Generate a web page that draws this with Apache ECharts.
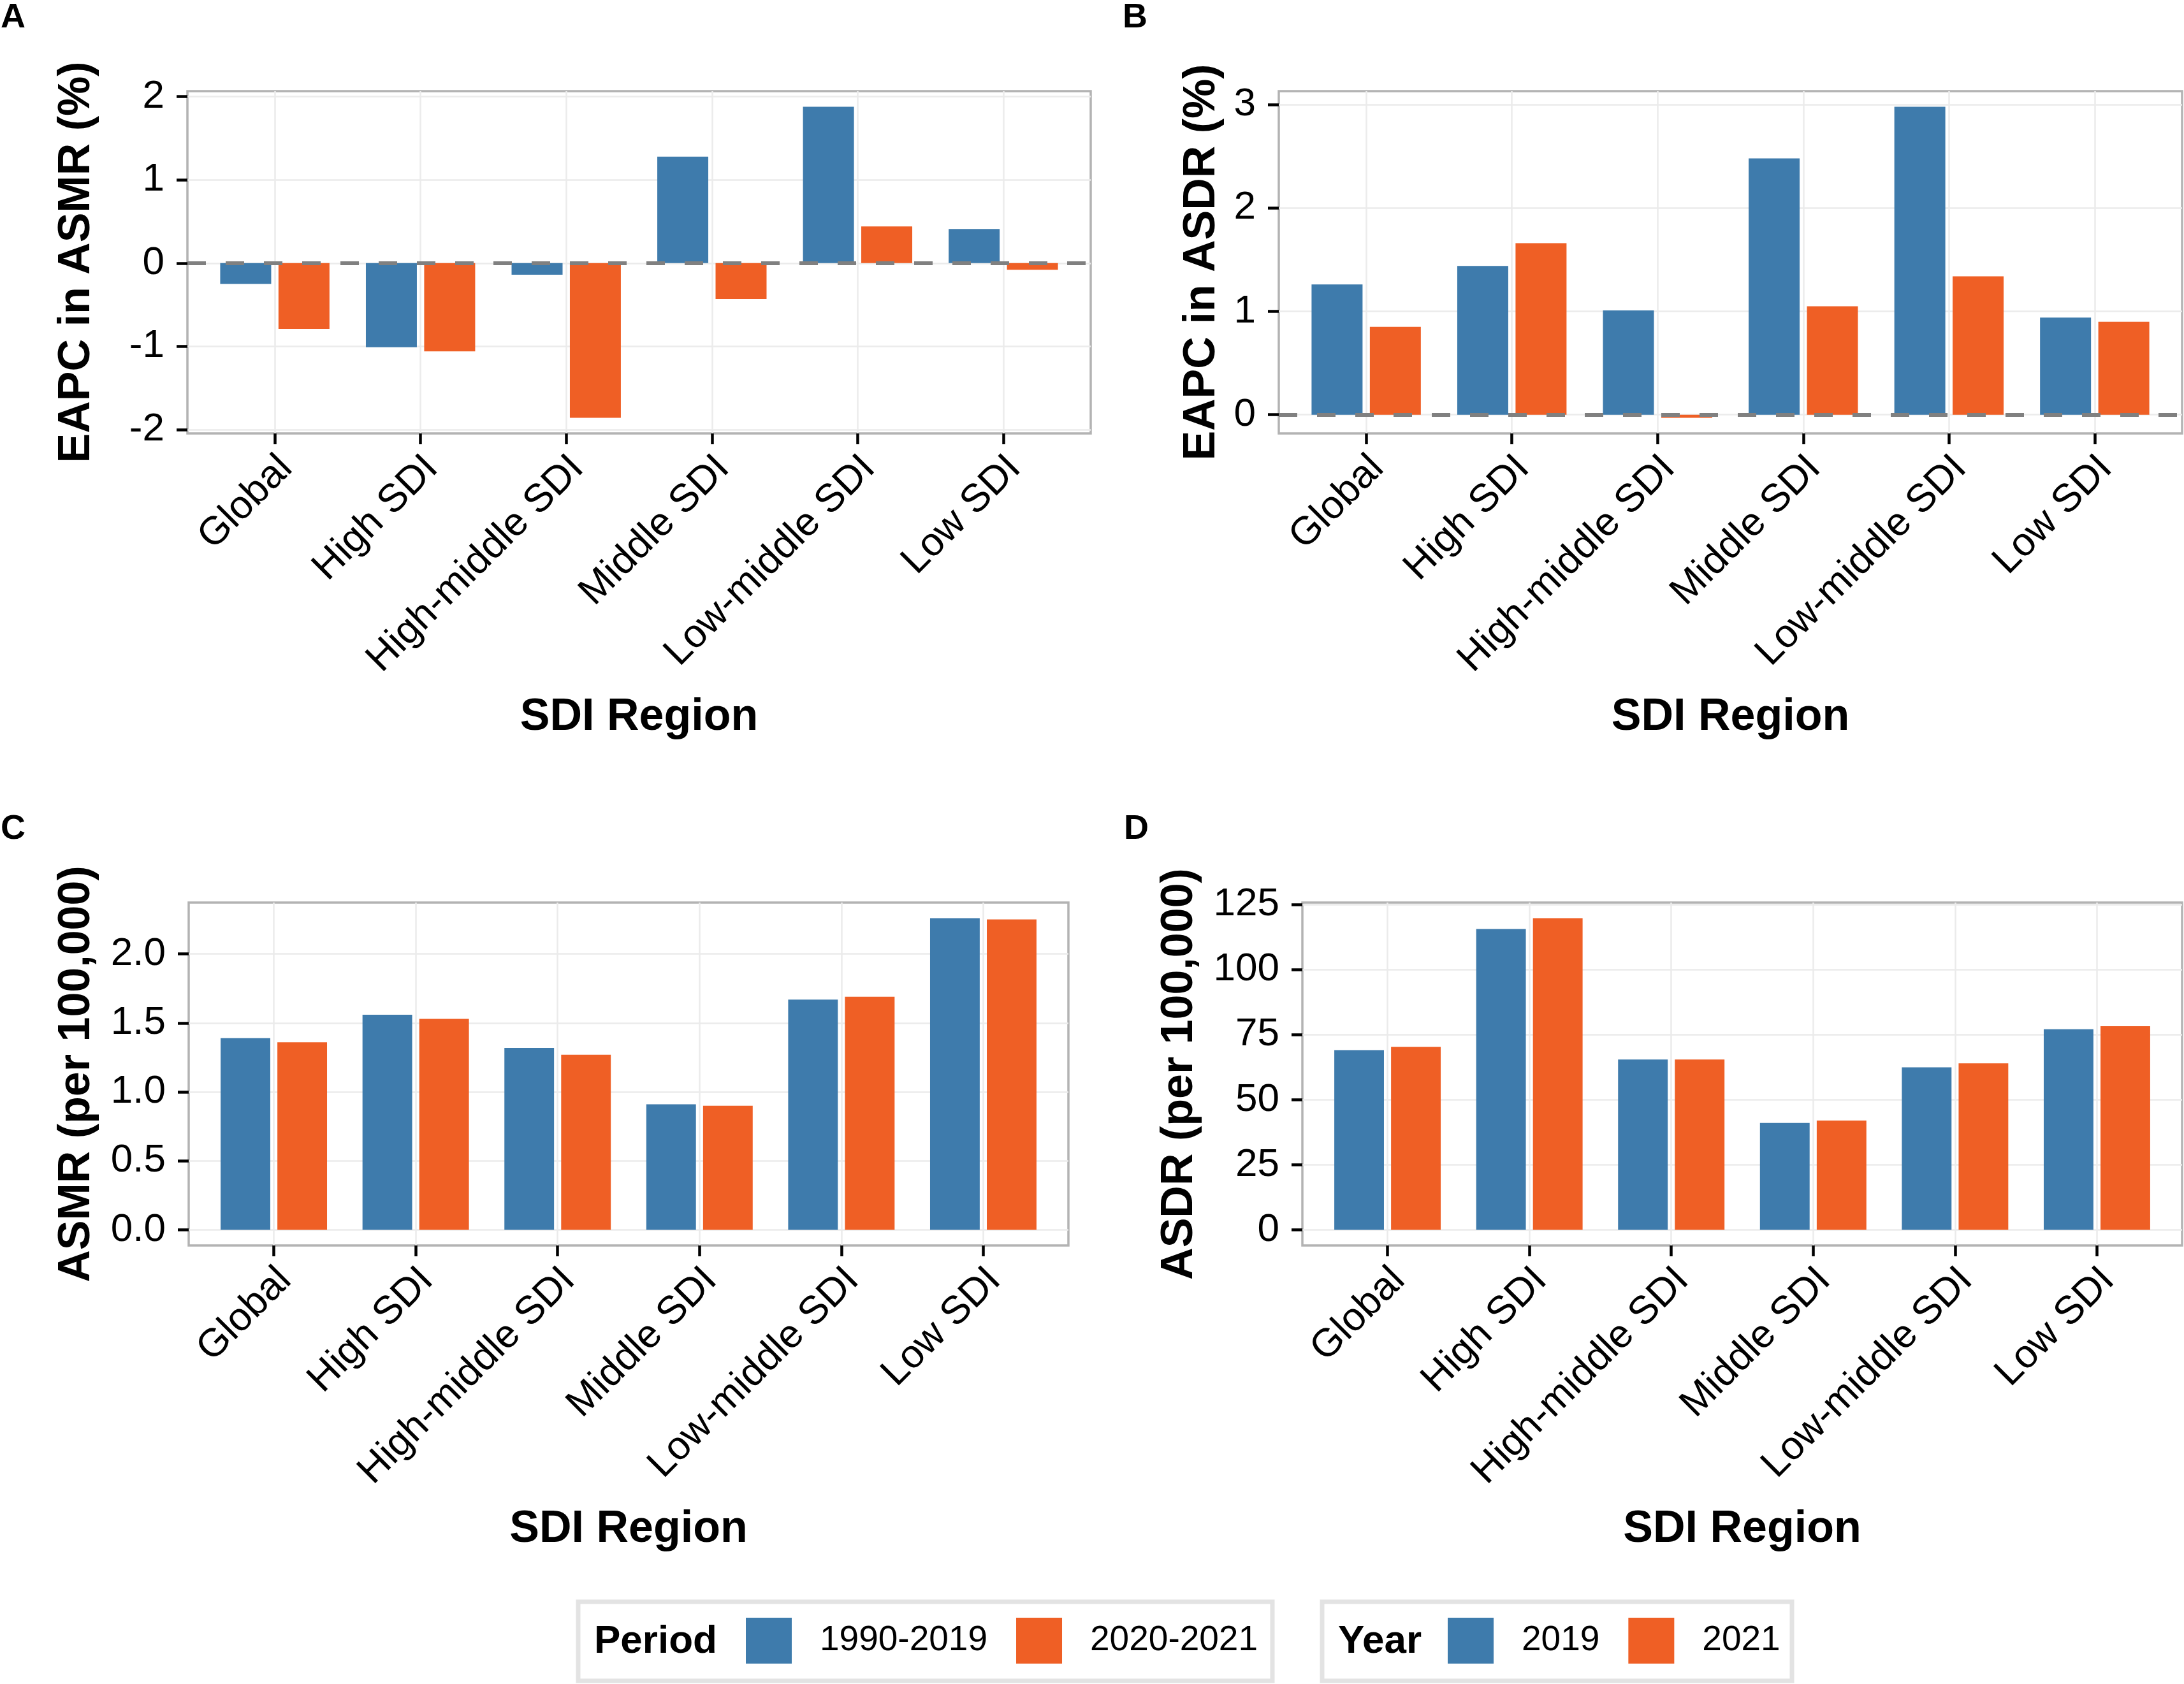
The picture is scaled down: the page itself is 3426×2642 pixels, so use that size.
<!DOCTYPE html>
<html>
<head>
<meta charset="utf-8">
<script src="https://cdn.jsdelivr.net/npm/echarts@6/dist/echarts.min.js"></script>
<style>
html,body{margin:0;padding:0;background:#fff;}
#chart{width:3426px;height:2642px;}
</style>
</head>
<body>
<div id="chart"></div>
<script>
// ---------------- data ----------------
const categories = ['Global', 'High SDI', 'High-middle SDI', 'Middle SDI', 'Low-middle SDI', 'Low SDI'];

const eapcAsmr_1990_2019 = [-0.25, -1.01, -0.14, 1.28, 1.88, 0.41];
const eapcAsmr_2020_2021 = [-0.79, -1.06, -1.86, -0.43, 0.44, -0.08];

const eapcAsdr_1990_2019 = [1.26, 1.44, 1.01, 2.48, 2.98, 0.94];
const eapcAsdr_2020_2021 = [0.85, 1.66, -0.03, 1.05, 1.34, 0.90];

const asmr_2019 = [1.39, 1.56, 1.32, 0.91, 1.67, 2.26];
const asmr_2021 = [1.36, 1.53, 1.27, 0.90, 1.69, 2.25];

const asdr_2019 = [69.1, 115.6, 65.5, 41.1, 62.5, 77.1];
const asdr_2021 = [70.3, 119.8, 65.5, 42.0, 64.0, 78.3];

const ticksA = [-2, -1, 0, 1, 2];
const ticksB = [0, 1, 2, 3];
const ticksC = [0, 0.5, 1.0, 1.5, 2.0];
const ticksD = [0, 25, 50, 75, 100, 125];

const periodNames = ['1990-2019', '2020-2021'];
const yearNames = ['2019', '2021'];

// ---------------- style ----------------
const BLUE = '#3e7bac';
const ORANGE = '#ef5f25';
const FONT = '"Liberation Sans", Arial, Helvetica, sans-serif';
const catIdx = categories.map((c, i) => i);

function expandRange(arrs, includeZero) {
  let all = [].concat(...arrs);
  if (includeZero) all = all.concat([0]);
  const mn = Math.min(...all), mx = Math.max(...all);
  const pad = (mx - mn) * 0.05;
  return [mn - pad, mx + pad];
}

const grids = [
  {left: 294, top: 143, width: 1417, height: 537},
  {left: 2006, top: 143, width: 1417, height: 537},
  {left: 296, top: 1416, width: 1380, height: 538},
  {left: 2043, top: 1416, width: 1380, height: 538}
].map(g => Object.assign({
  show: true, borderColor: '#b3b3b3', borderWidth: 3.5, containLabel: false
}, g));

function xAxisDef(gi) {
  return {
    type: 'value', gridIndex: gi, min: -0.6, max: 5.6,
    name: 'SDI Region', nameLocation: 'middle', nameGap: 411,
    nameTextStyle: {fontFamily: FONT, fontSize: 70, fontWeight: 'bold', color: '#000', lineHeight: 70},
    axisLine: {show: false, onZero: false},
    axisTick: {show: true, length: 17, lineStyle: {color: '#000', width: 4.5}, customValues: catIdx},
    axisLabel: {
      customValues: catIdx, rotate: 45, margin: 19, verticalAlign: 'top', padding: [0, 6, 0, 0],
      formatter: v => categories[Math.round(v)],
      fontFamily: FONT, fontSize: 62, color: '#000'
    },
    splitLine: {show: true, lineStyle: {color: '#ebebeb', width: 2.5}}
  };
}

function yAxisDef(gi, name, range, ticks, nameGap, digits) {
  return {
    type: 'value', gridIndex: gi, min: range[0], max: range[1],
    name: name, nameLocation: 'middle', nameGap: nameGap,
    nameTextStyle: {fontFamily: FONT, fontSize: 70, fontWeight: 'bold', color: '#000', lineHeight: 70},
    axisLine: {show: false, onZero: false},
    axisTick: {show: true, length: 17, lineStyle: {color: '#000', width: 4.5}, customValues: ticks},
    axisLabel: {
      customValues: ticks, margin: 36,
      formatter: v => digits ? v.toFixed(digits) : String(Math.round(v)),
      fontFamily: FONT, fontSize: 62, color: '#000'
    },
    splitLine: {show: true, lineStyle: {color: '#ebebeb', width: 2.5}}
  };
}

function barSeries(name, gi, vals, color, zeroLine) {
  const s = {
    type: 'bar', name: name, xAxisIndex: gi, yAxisIndex: gi,
    data: vals.map((v, i) => [i, v]),
    barWidth: '35%', barGap: '14.3%',
    itemStyle: {color: color},
    emphasis: {disabled: true},
    animation: false
  };
  if (zeroLine) {
    s.markLine = {
      silent: true, symbol: 'none', animation: false,
      label: {show: false},
      lineStyle: {color: '#808080', width: 6, type: [29, 31], opacity: 1},
      emphasis: {disabled: true},
      data: [{yAxis: 0}]
    };
  }
  return s;
}

const rangeA = expandRange([eapcAsmr_1990_2019, eapcAsmr_2020_2021], true);
const rangeB = expandRange([eapcAsdr_1990_2019, eapcAsdr_2020_2021], true);
const rangeC = expandRange([asmr_2019, asmr_2021], true);
const rangeD = expandRange([asdr_2019, asdr_2021], true);

const legendCommon = {
  orient: 'horizontal', icon: 'rect', itemWidth: 72, itemHeight: 72, itemGap: 45, padding: 0,
  selectedMode: false,
  textStyle: {fontFamily: FONT, fontSize: 55, color: '#000', padding: [0, 0, 0, 39]}
};

const option = {
  animation: false,
  backgroundColor: '#fff',
  textStyle: {fontFamily: FONT},
  grid: grids,
  xAxis: [xAxisDef(0), xAxisDef(1), xAxisDef(2), xAxisDef(3)],
  yAxis: [
    yAxisDef(0, 'EAPC in ASMR (%)', rangeA, ticksA, 138, 0),
    yAxisDef(1, 'EAPC in ASDR (%)', rangeB, ticksB, 85, 0),
    yAxisDef(2, 'ASMR (per 100,000)', rangeC, ticksC, 140, 1),
    yAxisDef(3, 'ASDR (per 100,000)', rangeD, ticksD, 157, 0)
  ],
  legend: [
    Object.assign({}, legendCommon, {left: 1170, top: 2538, data: periodNames}),
    Object.assign({}, legendCommon, {left: 2271, top: 2538, data: yearNames})
  ],
  graphic: [
    {type: 'rect', shape: {x: 907, y: 2513, width: 1089, height: 124}, style: {fill: '#fff', stroke: '#e3e3e3', lineWidth: 7}, z: -1},
    {type: 'rect', shape: {x: 2074, y: 2513, width: 737, height: 124}, style: {fill: '#fff', stroke: '#e3e3e3', lineWidth: 7}, z: -1},
    {type: 'text', style: {text: 'Period', x: 932, y: 2576, font: 'bold 62px ' + FONT, fill: '#000', textAlign: 'left', textVerticalAlign: 'middle'}},
    {type: 'text', style: {text: 'Year', x: 2099, y: 2576, font: 'bold 62px ' + FONT, fill: '#000', textAlign: 'left', textVerticalAlign: 'middle'}},
    {type: 'text', style: {text: 'A', x: 1, y: 28, font: 'bold 54px ' + FONT, fill: '#000', textAlign: 'left', textVerticalAlign: 'middle'}},
    {type: 'text', style: {text: 'B', x: 1761, y: 28, font: 'bold 54px ' + FONT, fill: '#000', textAlign: 'left', textVerticalAlign: 'middle'}},
    {type: 'text', style: {text: 'C', x: 1, y: 1301, font: 'bold 54px ' + FONT, fill: '#000', textAlign: 'left', textVerticalAlign: 'middle'}},
    {type: 'text', style: {text: 'D', x: 1763, y: 1301, font: 'bold 54px ' + FONT, fill: '#000', textAlign: 'left', textVerticalAlign: 'middle'}}
  ],
  series: [
    barSeries(periodNames[0], 0, eapcAsmr_1990_2019, BLUE, false),
    barSeries(periodNames[1], 0, eapcAsmr_2020_2021, ORANGE, true),
    barSeries(periodNames[0], 1, eapcAsdr_1990_2019, BLUE, false),
    barSeries(periodNames[1], 1, eapcAsdr_2020_2021, ORANGE, true),
    barSeries(yearNames[0], 2, asmr_2019, BLUE, false),
    barSeries(yearNames[1], 2, asmr_2021, ORANGE, false),
    barSeries(yearNames[0], 3, asdr_2019, BLUE, false),
    barSeries(yearNames[1], 3, asdr_2021, ORANGE, false)
  ]
};

const chart = echarts.init(document.getElementById('chart'), null, {renderer: 'canvas'});
chart.setOption(option);
</script>
</body>
</html>
